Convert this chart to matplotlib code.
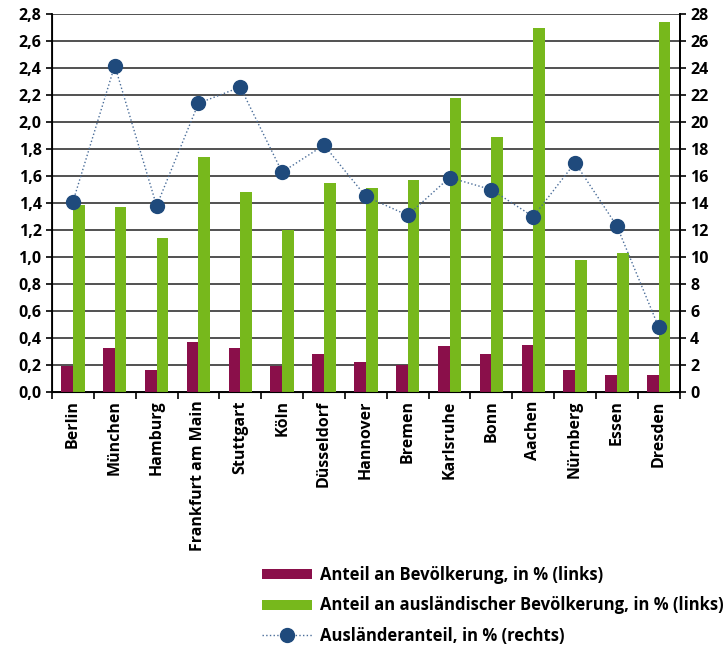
import numpy as np
import matplotlib.pyplot as plt
from matplotlib.ticker import FuncFormatter, FixedLocator
from matplotlib.patches import Patch
from matplotlib.lines import Line2D

plt.rcParams['font.family'] = ['Open Sans', 'DejaVu Sans']
plt.rcParams['font.weight'] = 'bold'

staedte = ['Berlin', 'München', 'Hamburg', 'Frankfurt am Main', 'Stuttgart', 'Köln',
           'Düsseldorf', 'Hannover', 'Bremen', 'Karlsruhe', 'Bonn', 'Aachen',
           'Nürnberg', 'Essen', 'Dresden']
anteil_bev = [0.19, 0.33, 0.16, 0.37, 0.33, 0.19, 0.28, 0.22, 0.20, 0.34, 0.28, 0.35, 0.16, 0.13, 0.13]
anteil_ausl_bev = [1.39, 1.37, 1.14, 1.74, 1.48, 1.20, 1.55, 1.51, 1.57, 2.18, 1.89, 2.70, 0.98, 1.03, 2.74]
auslaenderanteil = [14.1, 24.2, 13.8, 21.4, 22.6, 16.3, 18.3, 14.5, 13.1, 15.9, 15.0, 13.0, 17.0, 12.3, 4.8]

MAROON = '#8a0f4a'
GREEN = '#77b81c'
NAVY = '#1f4a7c'

fig = plt.figure(figsize=(7.24, 6.47), dpi=100)
ax = fig.add_axes([0.0718, 0.394, 0.867, 0.584])
x = np.arange(len(staedte))
w = 0.28

ax.bar(x - w / 2, anteil_bev, width=w, color=MAROON, zorder=3)
ax.bar(x + w / 2, anteil_ausl_bev, width=w, color=GREEN, zorder=3)

ax.set_xlim(-0.5, len(staedte) - 0.5)
ax.set_ylim(0, 2.8)
ax.set_yticks(np.arange(0, 2.81, 0.2))
ax.yaxis.set_major_formatter(FuncFormatter(lambda v, p: f'{v:.1f}'.replace('.', ',')))
ax.grid(axis='y', color='#222222', linewidth=1.1, zorder=0)
ax.set_axisbelow(True)

ax.set_xticks(x)
ax.set_xticklabels(staedte, rotation=90, fontsize=11.5, fontweight='bold')
ax.tick_params(axis='x', length=0, pad=6)
ax.xaxis.set_minor_locator(FixedLocator(np.arange(-0.5, len(staedte), 1)))
ax.tick_params(axis='x', which='minor', length=5, width=1.2, direction='out')
ax.tick_params(axis='y', length=4, width=1.2, direction='out', labelsize=11.5)
for lab in ax.get_yticklabels():
    lab.set_fontweight('bold')

ax.spines['top'].set_visible(False)
for s in ['left', 'bottom', 'right']:
    ax.spines[s].set_linewidth(1.3)
    ax.spines[s].set_color('black')

ax2 = ax.twinx()
ax2.plot(x, auslaenderanteil, linestyle=':', color='#4a6d99', linewidth=1.0,
         marker='o', markersize=10, markerfacecolor=NAVY, markeredgecolor=NAVY, zorder=5)
ax2.set_ylim(0, 28)
ax2.set_yticks(np.arange(0, 29, 2))
ax2.tick_params(axis='y', length=4, width=1.2, direction='out', labelsize=11.5)
for lab in ax2.get_yticklabels():
    lab.set_fontweight('bold')
ax2.spines['top'].set_visible(False)
ax2.spines['right'].set_linewidth(1.3)

handles = [
    Patch(facecolor=MAROON, edgecolor='none'),
    Patch(facecolor=GREEN, edgecolor='none'),
    Line2D([0], [0], linestyle=':', color='#4a6d99', linewidth=1.0, marker='o',
           markersize=10, markerfacecolor=NAVY, markeredgecolor=NAVY),
]
labels = ['Anteil an Bevölkerung, in % (links)',
          'Anteil an ausländischer Bevölkerung, in % (links)',
          'Ausländeranteil, in % (rechts)']
fig.legend(handles, labels, loc='lower left', bbox_to_anchor=(0.341, -0.02),
           frameon=False, handlelength=3.0, handleheight=0.55,
           labelspacing=0.75, handletextpad=0.48,
           prop={'weight': 'bold', 'size': 12})

fig.savefig('out.png', dpi=100)
